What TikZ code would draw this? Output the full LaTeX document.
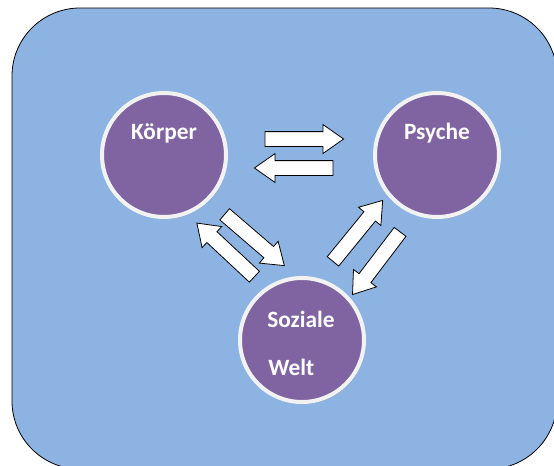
\documentclass[tikz,border=0pt]{standalone}
\usepackage{fontspec}
\setmainfont{Carlito}
\usetikzlibrary{shapes.arrows,shadows}
\definecolor{boxblue}{RGB}{141,179,226}
\definecolor{ballviolet}{RGB}{128,100,162}
\tikzset{
  ball/.style={circle,fill=ballviolet,draw=white!95!black,line width=3pt,minimum size=93pt,
    drop shadow={shadow xshift=1pt,shadow yshift=-1.5pt,opacity=0.35}},
  word/.style={text=white,font=\fontsize{17.5}{20}\selectfont\bfseries,inner sep=0pt},
  blockarrow/.style={single arrow,draw=black,fill=white,line width=0.6pt,
    inner xsep=0pt,inner ysep=5.25pt,single arrow head extend=5.25pt,
    single arrow tip angle=70,minimum height=59pt}
}
\begin{document}
\begin{tikzpicture}[x=0.75pt,y=-0.75pt]
\useasboundingbox (0,0) rectangle (554,465);
\draw[fill=boxblue,line width=0.6pt,rounded corners=51pt] (12,8) rectangle (557,469);
% the three circles
\node[ball] (koerper) at (164,155) {};
\node[ball] (psyche) at (437,155) {};
\node[ball] (sozial) at (302,340) {};
\node[word] (tk) at (164,133) {Körper};
\node[word] (tp) at (437,133) {Psyche};
\node[word,anchor=west] (ts) at (267,319) {Soziale};
\node[word,anchor=west] (tw) at (268,367) {Welt};
% arrows between them
\node[blockarrow] (kp) at (299,139) {};
\node[blockarrow,rotate=180] (pk) at (299,168) {};
\node[blockarrow,rotate=-40.7] (ks) at (250.5,236.5) {};
\node[blockarrow,rotate=137] (sk) at (229.5,253.5) {};
\node[blockarrow,rotate=50.8] (sp) at (354.5,235) {};
\node[blockarrow,rotate=-127.2] (ps) at (379.5,259) {};
\end{tikzpicture}
\end{document}
